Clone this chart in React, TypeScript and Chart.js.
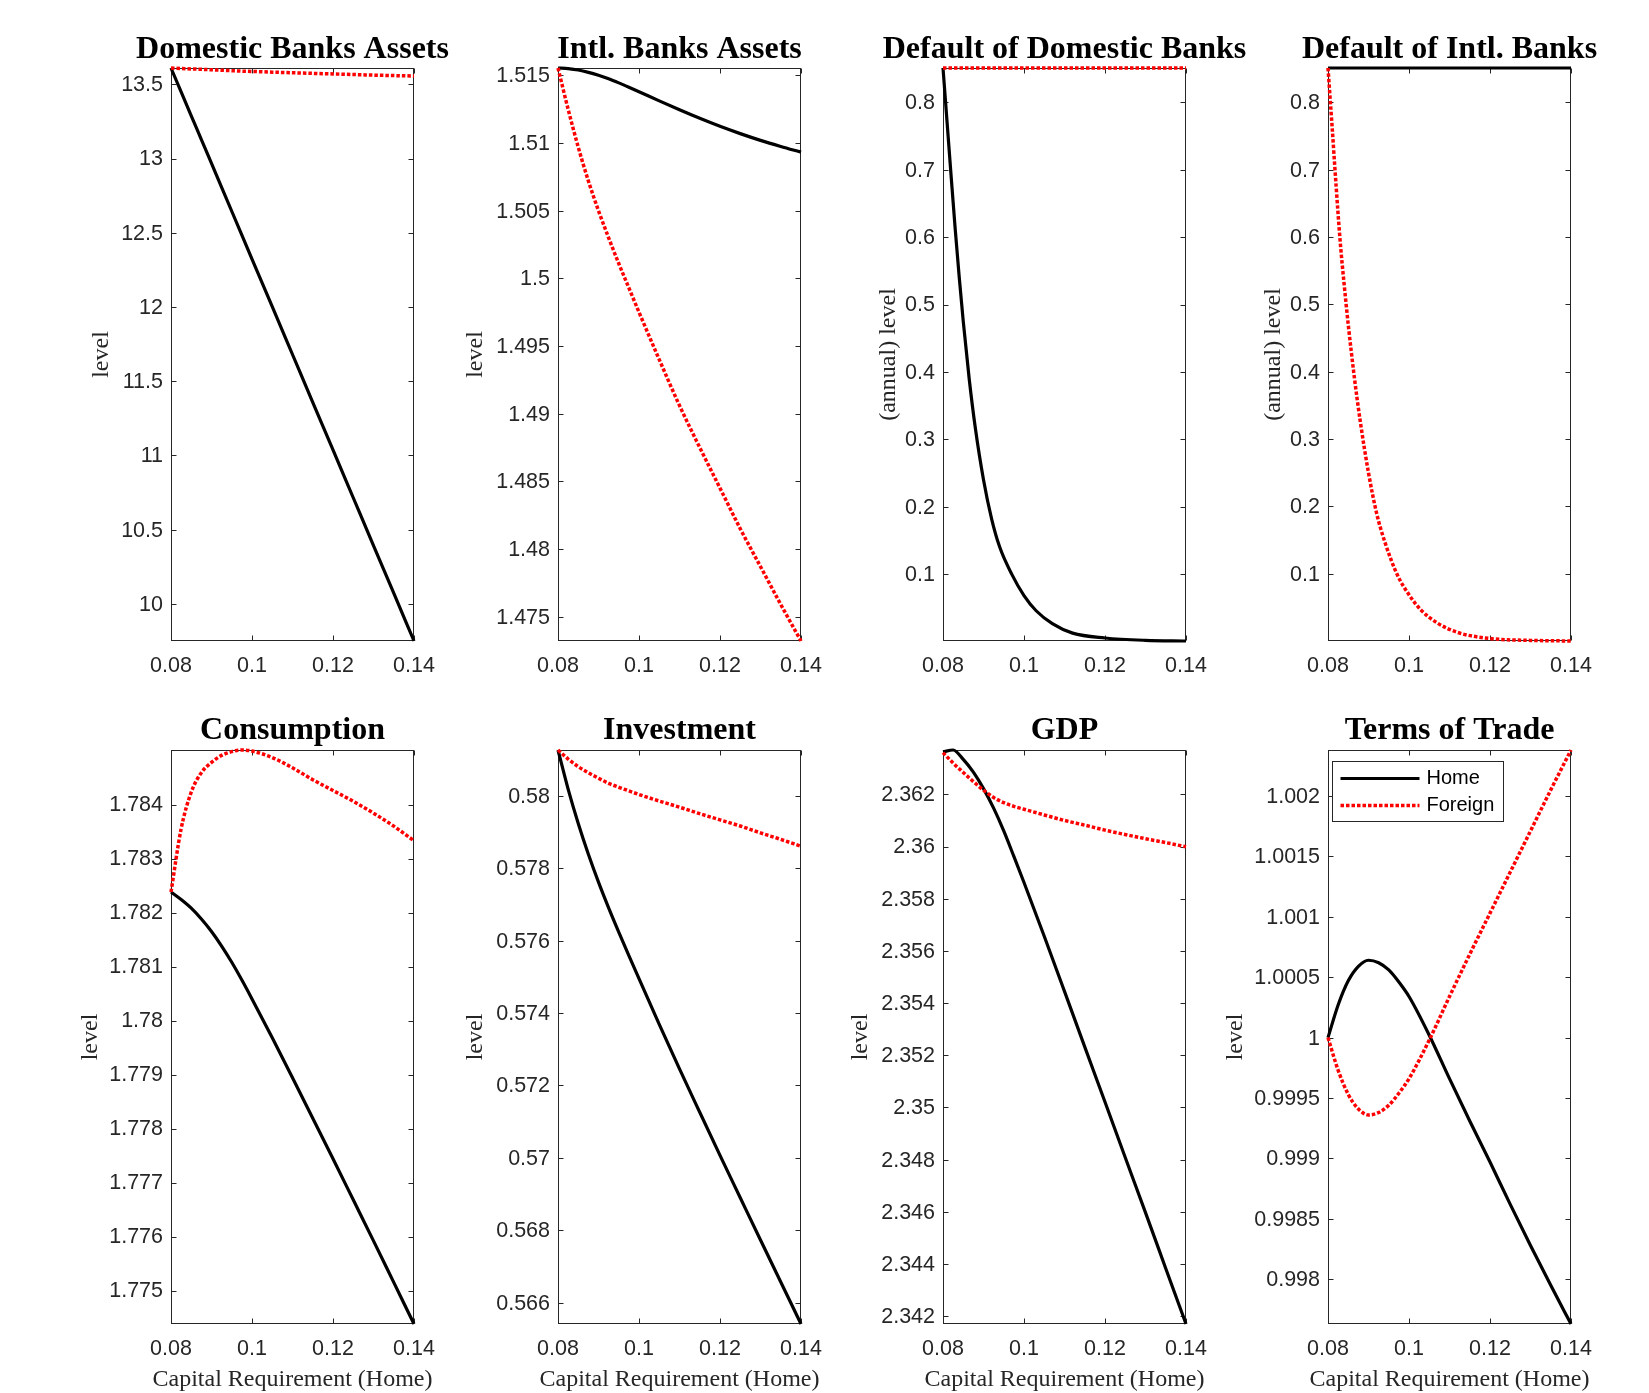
import React, { useEffect, useRef } from "react";
import { Chart, registerables } from "chart.js";

Chart.register(...registerables);

// ---------------- DATA ----------------
const CAP_REQ = [0.08, 0.0825, 0.085, 0.0875, 0.09, 0.0925, 0.095, 0.0975, 0.1, 0.105, 0.11, 0.115, 0.12, 0.125, 0.13, 0.135, 0.14];
const CAP_REQ_FINE = [0.08, 0.081, 0.082, 0.083, 0.084, 0.085, 0.0865, 0.088, 0.09, 0.092, 0.094, 0.097, 0.1, 0.103, 0.107, 0.112, 0.12, 0.13, 0.14];
const X_TICKS = [0.08, 0.1, 0.12, 0.14];

const DOM_ASSETS_HOME = [13.61, 13.449, 13.288, 13.128, 12.967, 12.806, 12.645, 12.484, 12.323, 12.002, 11.68, 11.358, 11.037, 10.715, 10.393, 10.072, 9.75];
const DOM_ASSETS_FOREIGN = [13.61, 13.607, 13.604, 13.601, 13.598, 13.595, 13.592, 13.589, 13.587, 13.582, 13.578, 13.574, 13.57, 13.566, 13.562, 13.559, 13.556];
const DOM_ASSETS_TICKS = [10, 10.5, 11, 11.5, 12, 12.5, 13, 13.5];

const INTL_ASSETS_HOME = [1.51555, 1.5155, 1.5154, 1.51523, 1.51501, 1.51475, 1.51445, 1.51413, 1.5138, 1.51312, 1.51246, 1.51183, 1.51124, 1.5107, 1.5102, 1.50975, 1.50933];
const INTL_ASSETS_FOREIGN = [1.51555, 1.5125, 1.5097, 1.5072, 1.505, 1.503, 1.5011, 1.4993, 1.4975, 1.494, 1.4906, 1.4875, 1.4845, 1.4815, 1.4787, 1.4759, 1.4732];
const INTL_ASSETS_TICKS = [1.475, 1.48, 1.485, 1.49, 1.495, 1.5, 1.505, 1.51, 1.515];

const DEF_DOM_HOME = [0.851, 0.771, 0.691, 0.613, 0.541, 0.475, 0.388, 0.316, 0.24, 0.182, 0.14, 0.0995, 0.068, 0.0455, 0.0263, 0.0123, 0.0051, 0.0016, 0.0006];
const DEF_DOM_FOREIGN = [0.851, 0.851, 0.851, 0.851, 0.851, 0.851, 0.851, 0.851, 0.851, 0.851, 0.851, 0.851, 0.851, 0.851, 0.851, 0.851, 0.851, 0.851, 0.851];
const DEF_INTL_HOME = [0.851, 0.851, 0.851, 0.851, 0.851, 0.851, 0.851, 0.851, 0.851, 0.851, 0.851, 0.851, 0.851, 0.851, 0.851, 0.851, 0.851, 0.851, 0.851];
const DEF_INTL_FOREIGN = [0.851, 0.765, 0.676, 0.594, 0.529, 0.47, 0.392, 0.325, 0.25, 0.19, 0.148, 0.1, 0.069, 0.046, 0.027, 0.013, 0.004, 0.0012, 0.0003];
const DEFAULT_TICKS = [0.1, 0.2, 0.3, 0.4, 0.5, 0.6, 0.7, 0.8];

const CONS_HOME = [1.78238, 1.78224, 1.78208, 1.78188, 1.78165, 1.78138, 1.78108, 1.78075, 1.7804, 1.77968, 1.77894, 1.77819, 1.77744, 1.77668, 1.77592, 1.77515, 1.77438];
const CONS_FOREIGN = [1.78238, 1.78355, 1.78423, 1.78459, 1.78478, 1.78491, 1.78498, 1.78501, 1.78499, 1.78487, 1.78468, 1.78446, 1.78426, 1.78406, 1.78384, 1.7836, 1.78333];
const CONS_TICKS = [1.775, 1.776, 1.777, 1.778, 1.779, 1.78, 1.781, 1.782, 1.783, 1.784];

const INV_HOME = [0.58127, 0.58019, 0.57924, 0.57839, 0.57762, 0.57691, 0.57624, 0.57559, 0.57495, 0.57369, 0.57246, 0.57126, 0.57007, 0.5689, 0.56773, 0.56657, 0.56541];
const INV_FOREIGN = [0.58127, 0.58102, 0.58081, 0.58064, 0.58049, 0.58035, 0.58024, 0.58014, 0.58004, 0.57986, 0.57969, 0.57951, 0.57934, 0.57917, 0.57898, 0.5788, 0.57861];
const INV_TICKS = [0.566, 0.568, 0.57, 0.572, 0.574, 0.576, 0.578, 0.58];

const GDP_HOME = [2.36363, 2.3637, 2.36334, 2.36285, 2.36222, 2.36147, 2.3606, 2.35962, 2.35862, 2.35656, 2.35445, 2.35232, 2.35021, 2.34808, 2.34597, 2.34383, 2.3417];
const GDP_FOREIGN = [2.3636, 2.3632, 2.36284, 2.36249, 2.36216, 2.36188, 2.36168, 2.36154, 2.36143, 2.36121, 2.361, 2.36082, 2.36063, 2.36046, 2.3603, 2.36015, 2.35999];
const GDP_TICKS = [2.342, 2.344, 2.346, 2.348, 2.35, 2.352, 2.354, 2.356, 2.358, 2.36, 2.362];

const TOT_HOME = [1.0, 1.00027, 1.00047, 1.00059, 1.00064, 1.00062, 1.00056, 1.00046, 1.00034, 1.00002, 0.99966, 0.99931, 0.99897, 0.99862, 0.99828, 0.99795, 0.99763];
const TOT_FOREIGN = [1.0, 0.99973, 0.99953, 0.99941, 0.99936, 0.99938, 0.99944, 0.99954, 0.99966, 0.99998, 1.00034, 1.00069, 1.00103, 1.00137, 1.00171, 1.00205, 1.00238];
const TOT_TICKS = [0.998, 0.9985, 0.999, 0.9995, 1, 1.0005, 1.001, 1.0015, 1.002];

const SERIES_LABELS = ["Home", "Foreign"];
const X_TITLE = "Capital Requirement (Home)";

type PanelCfg = {
  title: string;
  ylabel: string;
  xs: number[];
  home: number[];
  foreign: number[];
  yticks: number[];
  legend?: boolean;
};

const PANELS: PanelCfg[] = [
  { title: "Domestic Banks Assets", ylabel: "level", xs: CAP_REQ, home: DOM_ASSETS_HOME, foreign: DOM_ASSETS_FOREIGN, yticks: DOM_ASSETS_TICKS },
  { title: "Intl. Banks Assets", ylabel: "level", xs: CAP_REQ, home: INTL_ASSETS_HOME, foreign: INTL_ASSETS_FOREIGN, yticks: INTL_ASSETS_TICKS },
  { title: "Default of Domestic Banks", ylabel: "(annual) level", xs: CAP_REQ_FINE, home: DEF_DOM_HOME, foreign: DEF_DOM_FOREIGN, yticks: DEFAULT_TICKS },
  { title: "Default of Intl. Banks", ylabel: "(annual) level", xs: CAP_REQ_FINE, home: DEF_INTL_HOME, foreign: DEF_INTL_FOREIGN, yticks: DEFAULT_TICKS },
  { title: "Consumption", ylabel: "level", xs: CAP_REQ, home: CONS_HOME, foreign: CONS_FOREIGN, yticks: CONS_TICKS },
  { title: "Investment", ylabel: "level", xs: CAP_REQ, home: INV_HOME, foreign: INV_FOREIGN, yticks: INV_TICKS },
  { title: "GDP", ylabel: "level", xs: CAP_REQ, home: GDP_HOME, foreign: GDP_FOREIGN, yticks: GDP_TICKS },
  { title: "Terms of Trade", ylabel: "level", xs: CAP_REQ, home: TOT_HOME, foreign: TOT_FOREIGN, yticks: TOT_TICKS, legend: true },
];

// ---------------- LAYOUT / STYLE ----------------
const COL_LEFT = [171, 558, 943, 1328];
const PLOT_W = 243;
const SIDE = 120;
const ROWS = [
  { canvasTop: 20, plotTop: 68, plotBottom: 641, canvasBottom: 681, titlePadTop: 13, xTitle: false },
  { canvasTop: 700, plotTop: 750, plotBottom: 1324, canvasBottom: 1393, titlePadTop: 14, xTitle: true },
];
const YLABEL_PAD = [38, 25, 53, 53, 26.5, 25, 25, 15];
const AXIS_COLOR = "#262626";
const TICK_LEN = 5;
const SANS = '"Liberation Sans", Arial, Helvetica, sans-serif';
const SERIF = '"Liberation Serif", "Times New Roman", serif';
const TITLE_LH = 34;

const fmt = (v: number) => String(Number(v.toPrecision(10)));

function Panel({ cfg, index }: { cfg: PanelCfg; index: number }) {
  const ref = useRef<HTMLCanvasElement | null>(null);
  const col = index % 4;
  const row = ROWS[Math.floor(index / 4)];
  const left = COL_LEFT[col] - SIDE;
  const width = SIDE + PLOT_W + SIDE;
  const top = row.canvasTop;
  const height = row.canvasBottom - row.canvasTop;

  useEffect(() => {
    const canvas = ref.current;
    if (!canvas) return;
    const all = [...cfg.home, ...cfg.foreign];
    const ymin = Math.min(...all);
    const ymax = Math.max(...all);
    const titlePadBottom = row.plotTop - row.canvasTop - TITLE_LH - row.titlePadTop;

    const framePlugin = {
      id: "frame",
      beforeDatasetsDraw(chart: any) {
        const { ctx, chartArea } = chart;
        const xs = chart.scales.x;
        const ys = chart.scales.y;
        const L = Math.round(chartArea.left) + 0.5;
        const R = Math.round(chartArea.right) - 0.5;
        const T = Math.round(chartArea.top) + 0.5;
        const B = Math.round(chartArea.bottom) - 0.5;
        ctx.save();
        ctx.strokeStyle = AXIS_COLOR;
        ctx.lineWidth = 1;
        ctx.strokeRect(L, T, R - L, B - T);
        ctx.beginPath();
        xs.ticks.forEach((t: any) => {
          const p = Math.round(xs.getPixelForValue(t.value)) + 0.5;
          ctx.moveTo(p, B);
          ctx.lineTo(p, B - TICK_LEN);
          ctx.moveTo(p, T);
          ctx.lineTo(p, T + TICK_LEN);
        });
        ys.ticks.forEach((t: any) => {
          const p = Math.round(ys.getPixelForValue(t.value)) + 0.5;
          ctx.moveTo(L, p);
          ctx.lineTo(L + TICK_LEN, p);
          ctx.moveTo(R, p);
          ctx.lineTo(R - TICK_LEN, p);
        });
        ctx.stroke();
        ctx.restore();
      },
    };

    const xTitlePlugin = {
      id: "xTitle",
      afterDraw(chart: any) {
        if (!row.xTitle) return;
        const { ctx, chartArea } = chart;
        ctx.save();
        ctx.font = `24px ${SERIF}`;
        ctx.fillStyle = AXIS_COLOR;
        ctx.textAlign = "center";
        ctx.textBaseline = "middle";
        ctx.fillText(X_TITLE, (chartArea.left + chartArea.right) / 2, chartArea.bottom + 56);
        ctx.restore();
      },
    };

    const legendPlugin = {
      id: "boxLegend",
      afterDatasetsDraw(chart: any) {
        if (!cfg.legend) return;
        const { ctx, chartArea } = chart;
        const bx = Math.round(chartArea.left) + 4.5;
        const by = Math.round(chartArea.top) + 11.5;
        const bw = 171;
        const bh = 60;
        ctx.save();
        ctx.fillStyle = "#ffffff";
        ctx.fillRect(bx, by, bw, bh);
        ctx.strokeStyle = AXIS_COLOR;
        ctx.lineWidth = 1;
        ctx.strokeRect(bx, by, bw, bh);
        const rowsY = [by + 17, by + 44];
        const items = [...chart.data.datasets].sort(
          (a: any, b: any) => SERIES_LABELS.indexOf(a.label) - SERIES_LABELS.indexOf(b.label)
        );
        items.forEach((ds: any, i: number) => {
          const y = rowsY[i];
          ctx.beginPath();
          ctx.strokeStyle = ds.borderColor;
          ctx.lineWidth = ds.borderWidth;
          ctx.setLineDash(ds.borderDash || []);
          ctx.moveTo(bx + 8, y);
          ctx.lineTo(bx + 87, y);
          ctx.stroke();
          ctx.setLineDash([]);
          ctx.fillStyle = "#000";
          ctx.font = `20px ${SANS}`;
          ctx.textAlign = "left";
          ctx.textBaseline = "middle";
          ctx.fillText(ds.label, bx + 94, y);
        });
        ctx.restore();
      },
    };

    const tickFont = { family: SANS, size: 21.5 };

    const chart = new Chart(canvas, {
      type: "line",
      data: {
        datasets: [
          {
            label: SERIES_LABELS[0],
            data: cfg.xs.map((x, i) => ({ x, y: cfg.home[i] })),
            borderColor: "#000000",
            borderWidth: 3.2,
            pointRadius: 0,
            cubicInterpolationMode: "monotone",
            borderJoinStyle: "round",
            order: 1,
            clip: 4,
          },
          {
            label: SERIES_LABELS[1],
            data: cfg.xs.map((x, i) => ({ x, y: cfg.foreign[i] })),
            borderColor: "#ff0000",
            borderWidth: 3.5,
            borderDash: [3.5, 2],
            pointRadius: 0,
            cubicInterpolationMode: "monotone",
            order: 0,
            clip: 4,
          },
        ],
      },
      options: {
        responsive: false,
        animation: false,
        events: [],
        layout: { padding: 0 },
        plugins: {
          legend: { display: false },
          tooltip: { enabled: false },
          title: {
            display: true,
            text: cfg.title,
            color: "#000000",
            font: { family: SERIF, size: 32, weight: "bold", lineHeight: `${TITLE_LH}px` },
            padding: { top: row.titlePadTop, bottom: titlePadBottom },
          },
        },
        scales: {
          x: {
            type: "linear",
            min: 0.08,
            max: 0.14,
            afterBuildTicks: (s: any) => {
              s.ticks = X_TICKS.map((v) => ({ value: v }));
            },
            afterFit: (s: any) => {
              s.height = row.canvasBottom - row.plotBottom;
            },
            grid: { display: false, drawTicks: false },
            border: { display: false },
            ticks: {
              autoSkip: false,
              maxRotation: 0,
              padding: 12,
              color: AXIS_COLOR,
              font: tickFont,
              callback: (v: any) => fmt(Number(v)),
            },
          },
          y: {
            type: "linear",
            position: "left",
            min: ymin,
            max: ymax,
            afterBuildTicks: (s: any) => {
              s.ticks = cfg.yticks.map((v) => ({ value: v }));
            },
            afterFit: (s: any) => {
              s.width = SIDE;
            },
            grid: { display: false, drawTicks: false },
            border: { display: false },
            ticks: {
              autoSkip: false,
              padding: 8,
              labelOffset: 1,
              color: AXIS_COLOR,
              font: tickFont,
              callback: (v: any) => fmt(Number(v)),
            },
            title: {
              display: true,
              text: cfg.ylabel,
              color: AXIS_COLOR,
              font: { family: SERIF, size: 24, lineHeight: "26px" },
              padding: { top: YLABEL_PAD[index], bottom: 0 },
            },
          },
          yRightSpacer: {
            type: "linear",
            position: "right",
            display: true,
            grid: { display: false, drawTicks: false },
            border: { display: false },
            ticks: { display: false },
            afterFit: (s: any) => {
              s.width = SIDE;
            },
          },
        },
      },
      plugins: [framePlugin, legendPlugin, xTitlePlugin],
    } as any);

    return () => chart.destroy();
  }, [cfg, index]);

  return (
    <canvas
      ref={ref}
      width={width}
      height={height}
      style={{ position: "absolute", left, top, width, height }}
    />
  );
}

export default function App() {
  return (
    <div
      style={{
        position: "absolute",
        left: 0,
        top: 0,
        width: 1649,
        height: 1393,
        overflow: "hidden",
        background: "#ffffff",
      }}
    >
      {PANELS.map((p, i) => (
        <Panel key={p.title} cfg={p} index={i} />
      ))}
    </div>
  );
}
